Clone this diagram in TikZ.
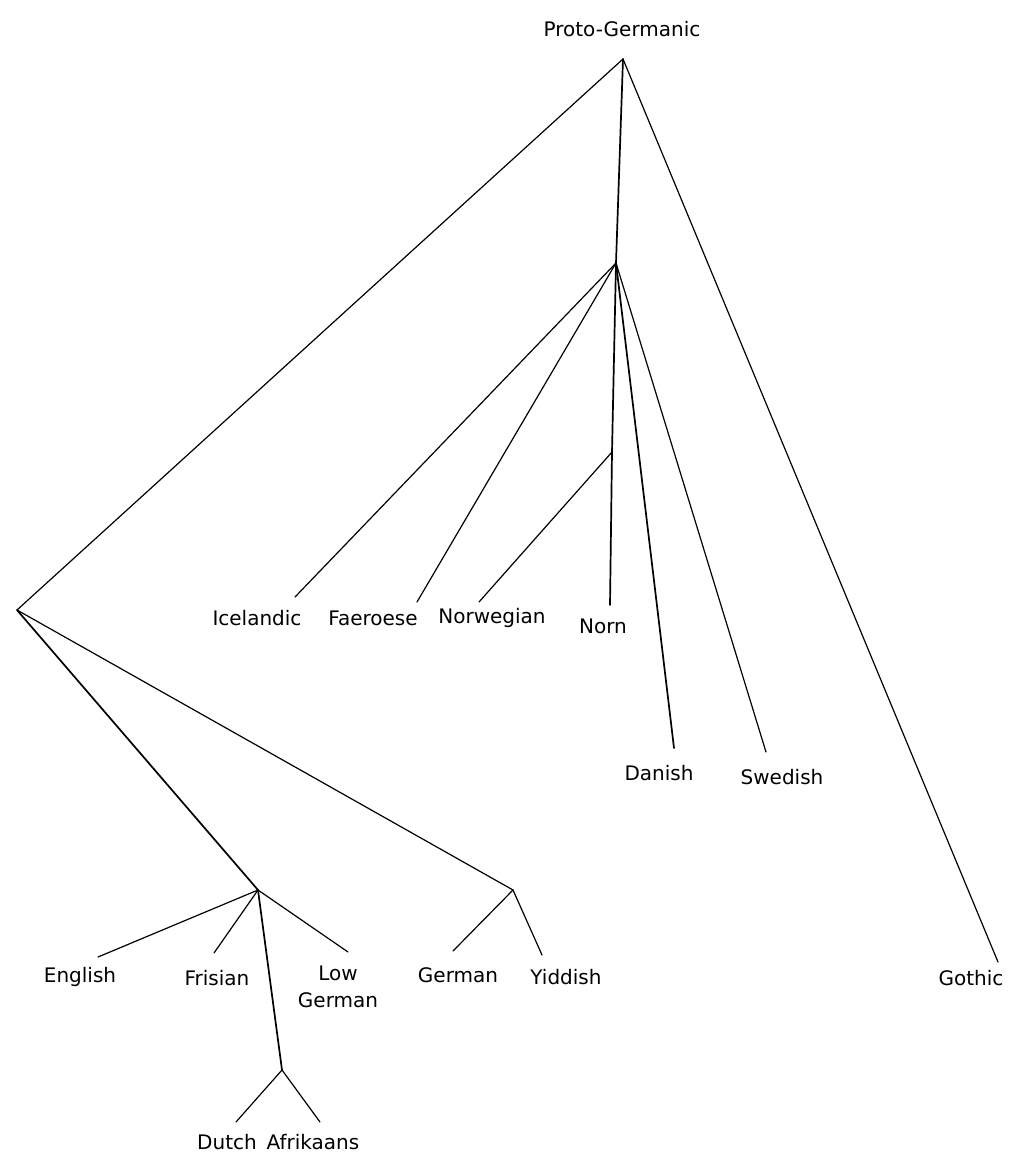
\documentclass[tikz,border=0pt]{standalone}
\usepackage{fontspec}
\setmainfont{DejaVu Sans}
\begin{document}
\begin{tikzpicture}[x=0.5pt,y=-0.5pt,
  lbl/.style={font=\fontsize{10}{13.5}\selectfont, inner sep=0pt, align=center},
  thick br/.style={line width=0.85pt, line cap=round},
  thin br/.style={line width=0.6pt, line cap=round}]
\useasboundingbox (0,0) rectangle (1010,1161);
% internal nodes
\coordinate (root) at (623,59);
\coordinate (ng) at (616,263);
\coordinate (wg) at (17,610);
\coordinate (nwb) at (612,452);
\coordinate (af) at (258,890);
\coordinate (gy) at (513,890);
\coordinate (da) at (282,1070);
% leaf line ends
\coordinate (eIce) at (295,597);
\coordinate (eFae) at (417,602);
\coordinate (eNor) at (479,602);
\coordinate (eNorn) at (610,605);
\coordinate (eDan) at (674,748);
\coordinate (eSwe) at (766,752);
\coordinate (eGot) at (998,962);
\coordinate (eEng) at (98,957);
\coordinate (eFri) at (214,953);
\coordinate (eLow) at (348,952);
\coordinate (eGer) at (453,951);
\coordinate (eYid) at (542,955);
\coordinate (eDut) at (236,1122);
\coordinate (eAfr) at (320,1122);
% labels
\node[lbl] (pg) at (622,29) {Proto-Germanic};
\node[lbl] (ice) at (257,618) {Icelandic};
\node[lbl] (fae) at (373,618) {Faeroese};
\node[lbl] (nor) at (492,618) {Norwegian};
\node[lbl] (norn) at (603,626) {Norn};
\node[lbl] (dan) at (659,773) {Danish};
\node[lbl] (swe) at (782,777) {Swedish};
\node[lbl] (got) at (971,978) {Gothic};
\node[lbl] (eng) at (80,977) {English};
\node[lbl] (fri) at (217,978) {Frisian};
\node[lbl] (low) at (338,987) {Low\\German};
\node[lbl] (ger) at (458,975) {German};
\node[lbl] (yid) at (566,977) {Yiddish};
\node[lbl] (dut) at (227,1142) {Dutch};
\node[lbl] (afr) at (313,1142) {Afrikaans};
% branches
\draw[thin br] (root) -- (wg);
\draw[thick br] (root) -- (ng);
\draw[thin br] (root) -- (eGot);
\draw[thin br] (ng) -- (eIce);
\draw[thin br] (ng) -- (eFae);
\draw[thick br] (ng) -- (nwb) -- (eNorn);
\draw[thin br] (nwb) -- (eNor);
\draw[thick br] (ng) -- (eDan);
\draw[thin br] (ng) -- (eSwe);
\draw[thick br] (wg) -- (af);
\draw[thin br] (wg) -- (gy);
\draw[thin br] (af) -- (eEng);
\draw[thin br] (af) -- (eFri);
\draw[thin br] (af) -- (eLow);
\draw[thick br] (af) -- (da);
\draw[thin br] (da) -- (eDut);
\draw[thin br] (da) -- (eAfr);
\draw[thin br] (gy) -- (eGer);
\draw[thin br] (gy) -- (eYid);
\end{tikzpicture}
\end{document}
